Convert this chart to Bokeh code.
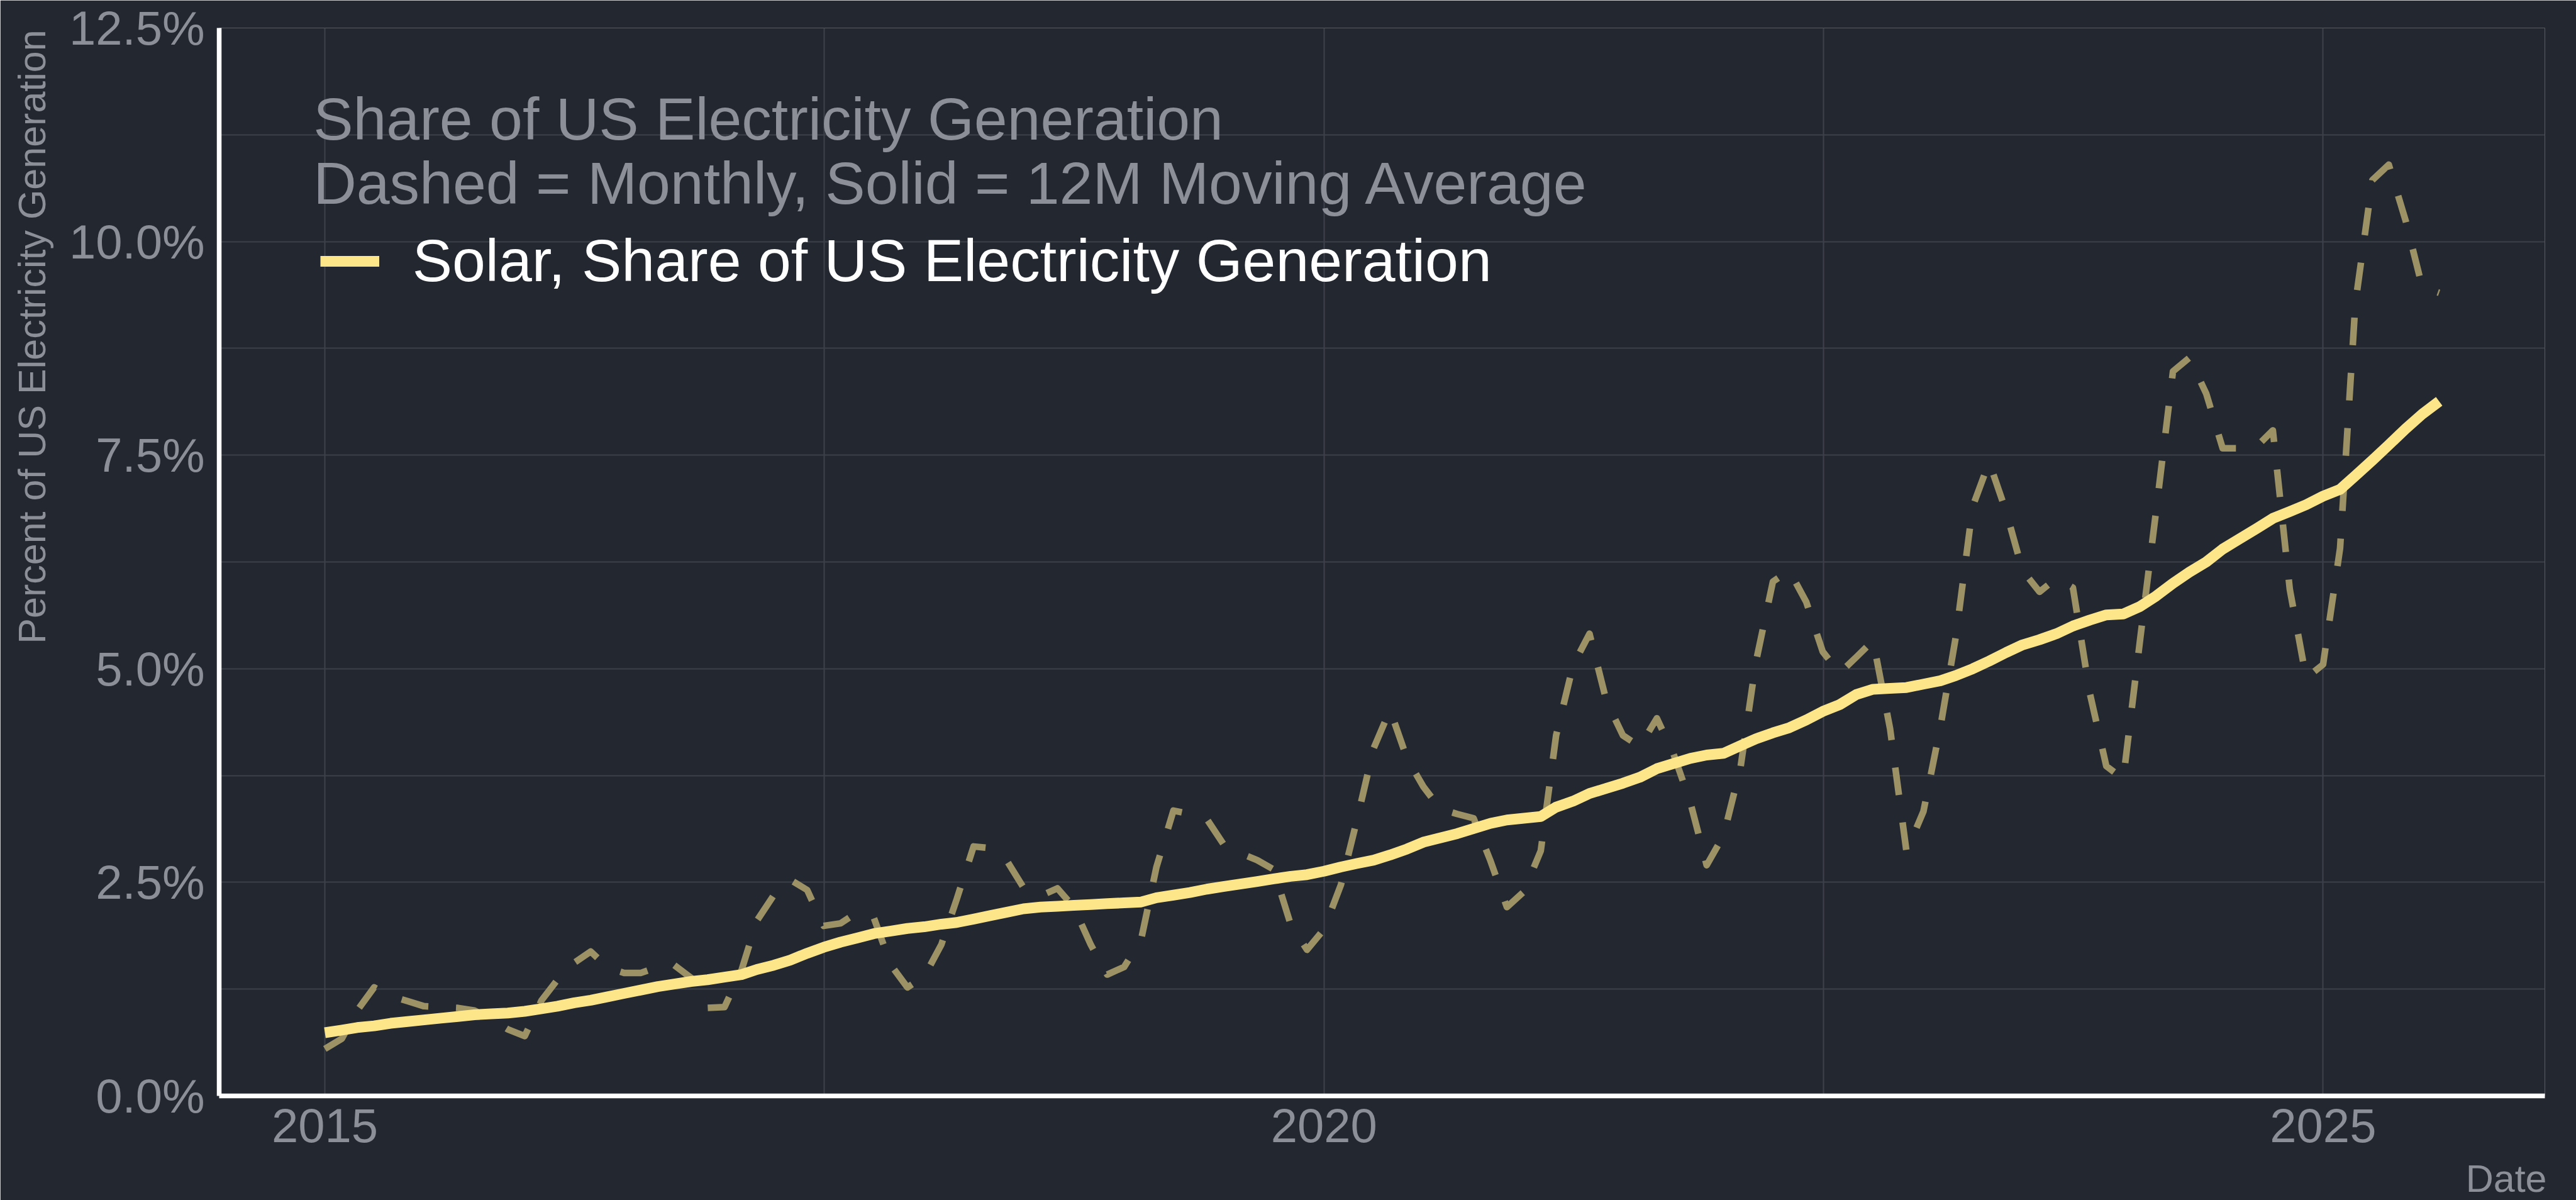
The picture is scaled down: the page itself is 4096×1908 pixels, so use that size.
import numpy as np
import pandas as pd
from bokeh.plotting import figure
from bokeh.models import (Range1d, FixedTicker, PrintfTickFormatter, Label, Legend,
                          LegendItem)
from bokeh.embed import file_html
from bokeh.resources import INLINE

# ---------------- data ----------------
months = pd.date_range("2015-01-01", periods=128, freq="MS")

monthly_share = [
    0.55, 0.67, 1.00, 1.27, 1.17, 1.11, 1.05, 1.04, 1.03, 1.00, 0.90, 0.78,   # 2015
    0.70, 1.12, 1.36, 1.56, 1.69, 1.50, 1.44, 1.44, 1.51, 1.53, 1.38, 1.03,   # 2016
    1.04, 1.47, 2.05, 2.35, 2.53, 2.41, 1.99, 2.02, 2.15, 2.08, 1.53, 1.27,   # 2017
    1.40, 1.77, 2.30, 2.92, 2.90, 2.75, 2.44, 2.34, 2.43, 2.21, 1.77, 1.42,   # 2018
    1.51, 1.83, 2.68, 3.34, 3.30, 3.24, 2.95, 2.84, 2.76, 2.65, 2.01, 1.71,   # 2019
    1.95, 2.47, 3.22, 4.07, 4.52, 3.95, 3.62, 3.36, 3.30, 3.25, 2.75, 2.21,   # 2020
    2.39, 2.87, 4.22, 5.04, 5.41, 4.62, 4.22, 4.09, 4.42, 4.01, 3.44, 2.70,   # 2021
    3.05, 3.85, 5.08, 6.02, 6.15, 5.78, 5.20, 4.95, 5.14, 5.33, 4.30, 2.86,   # 2022
    3.33, 4.32, 5.37, 6.90, 7.42, 6.84, 6.15, 5.90, 6.06, 5.95, 4.71, 3.86,   # 2023
    3.71, 5.35, 6.84, 8.48, 8.64, 8.22, 7.58, 7.58, 7.60, 7.79, 5.93, 4.89,   # 2024
    5.05, 6.41, 9.28, 10.72, 10.90, 10.24, 9.47, 9.40,                       # 2025
]

ma_share = [
    0.74, 0.77, 0.80, 0.82, 0.85, 0.87, 0.89, 0.91, 0.93, 0.95, 0.96, 0.97,
    0.99, 1.02, 1.05, 1.09, 1.12, 1.16, 1.20, 1.24, 1.28, 1.31, 1.34, 1.36,
    1.39, 1.42, 1.48, 1.53, 1.59, 1.67, 1.74, 1.80, 1.85, 1.90, 1.93, 1.96,
    1.98, 2.01, 2.03, 2.07, 2.11, 2.15, 2.19, 2.21, 2.22, 2.23, 2.24, 2.25,
    2.26, 2.27, 2.32, 2.35, 2.38, 2.42, 2.45, 2.48, 2.51, 2.54, 2.57, 2.59,
    2.63, 2.68, 2.72, 2.76, 2.82, 2.89, 2.97, 3.02, 3.07, 3.13, 3.19, 3.23,
    3.25, 3.27, 3.38, 3.45, 3.54, 3.60, 3.66, 3.73, 3.83, 3.89, 3.95, 3.99,
    4.01, 4.10, 4.18, 4.25, 4.31, 4.40, 4.50, 4.58, 4.70, 4.76, 4.77, 4.78,
    4.82, 4.86, 4.92, 5.00, 5.09, 5.19, 5.28, 5.34, 5.41, 5.50, 5.57, 5.63,
    5.64, 5.73, 5.85, 6.00, 6.13, 6.25, 6.40, 6.52, 6.64, 6.76, 6.84, 6.92,
    7.02, 7.10, 7.26, 7.44, 7.62, 7.81, 7.98, 8.13,
]

x_ticks = [2015, 2020, 2025]
x_tick_labels = ["2015", "2020", "2025"]
x_grid = [2015, 2017.5, 2020, 2022.5, 2025]
y_ticks = [0, 2.5, 5, 7.5, 10, 12.5]
y_grid = [0, 1.25, 2.5, 3.75, 5, 6.25, 7.5, 8.75, 10, 11.25, 12.5]

title_lines = ["Share of US Electricity Generation",
               "Dashed = Monthly, Solid = 12M Moving Average"]
series_label = "Solar, Share of US Electricity Generation"
y_title = "Percent of US Electricity Generation"
x_title = "Date"

# ---------------- styling ----------------
BG = "#232730"
GRID = "#3c4049"
TICK = "#8c8f98"
SOLID = "#fde68a"
DASHED = "#9c9266"
FONT = "Liberation Sans"

W, H = 4096, 1908
L, R, T, B = 348, 50, 44, 166
FW, FH = W - L - R, H - T - B
S = 0.874          # reference -> output scale
BASE_FIX = 0.32    # measured baseline correction of labels (in em)


def sx(x_ref):
    return x_ref * S - L


def sy(y_ref):
    return (H - B) - y_ref * S


# decimal years
dec_year = months.year + (months.dayofyear - 1) / np.where(months.is_leap_year, 366, 365)
x0, x1 = float(dec_year.min()), float(dec_year.max())
pad = 0.05 * (x1 - x0)

p = figure(width=W, height=H, output_backend="svg", toolbar_location=None,
           x_range=Range1d(x0 - pad, x1 + pad), y_range=Range1d(0, 12.5),
           min_border_left=L, min_border_right=R, min_border_top=T, min_border_bottom=B,
           background_fill_color=BG, border_fill_color=BG, outline_line_color=None)

dashed = p.line(dec_year, monthly_share, line_width=10.5, line_color=DASHED,
                line_dash="44 44", line_join="round", line_cap="butt")
solid = p.line(dec_year, ma_share, line_width=17, line_color=SOLID,
               line_join="round", line_cap="butt")

# axes
for ax in (p.xaxis[0], p.yaxis[0]):
    ax.axis_line_color = "white"
    ax.axis_line_width = 7.5
    ax.major_tick_in = ax.major_tick_out = 0
    ax.minor_tick_in = ax.minor_tick_out = 0
    ax.major_label_text_font = FONT
    ax.major_label_text_font_size = "76px"
    ax.major_label_text_color = TICK

p.xaxis.ticker = FixedTicker(ticks=x_ticks)
p.xaxis.major_label_overrides = dict(zip(x_ticks, x_tick_labels))
p.xaxis.major_label_standoff = 20
p.yaxis.ticker = FixedTicker(ticks=y_ticks)
p.yaxis.formatter = PrintfTickFormatter(format="%.1f%%")
p.yaxis.major_label_standoff = 23

p.xgrid.ticker = FixedTicker(ticks=x_grid)
p.ygrid.ticker = FixedTicker(ticks=y_grid)
for g in (p.xgrid[0], p.ygrid[0]):
    g.grid_line_color = GRID
    g.grid_line_width = 2.2

# title lines inside the panel
for txt, yref in zip(title_lines, [251, 367]):
    p.add_layout(Label(x=sx(574) - 4, y=sy(yref) + BASE_FIX * 95,
                       x_units="screen", y_units="screen",
                       text=txt, text_font=FONT, text_font_size="95px",
                       text_color=TICK, text_baseline="alphabetic", text_align="left"))

# y axis title (top aligned, rotated) - placed in the left side panel (not clipped)
yt_len = 16.0 * 61
p.add_layout(Label(x=86 * S - 5 - BASE_FIX * 61, y=T + 3 + yt_len / 2,
                   x_units="canvas", y_units="canvas",
                   text=y_title, angle=90, angle_units="deg",
                   text_font=FONT, text_font_size="61px", text_color=TICK,
                   text_align="center", text_baseline="alphabetic"), "left")
# x axis title (right aligned) - in the bottom side panel
p.add_layout(Label(x=L + FW + 3, y=1893 - BASE_FIX * 61,
                   x_units="canvas", y_units="canvas",
                   text=x_title, text_font=FONT, text_font_size="61px", text_color=TICK,
                   text_align="right", text_baseline="alphabetic"), "below")

# legend
legend = Legend(items=[LegendItem(label=series_label, renderers=[solid])],
                location=(sx(582), sy(474) - 55), margin=0, padding=0, spacing=0,
                border_line_color=None, background_fill_alpha=0,
                glyph_width=94, glyph_height=40, label_height=40, label_standoff=53,
                label_text_font=FONT, label_text_font_size="95px", label_text_color="white")
p.add_layout(legend)

open("out.html", "w").write(file_html(p, INLINE))
